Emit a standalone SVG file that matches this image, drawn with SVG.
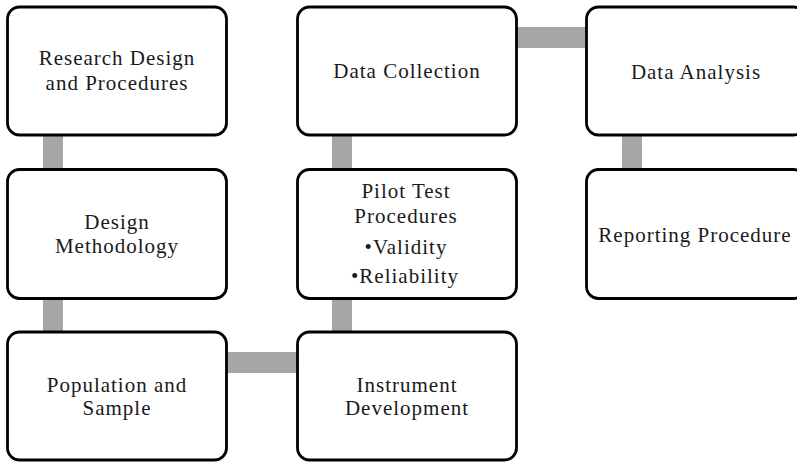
<svg xmlns="http://www.w3.org/2000/svg" width="797" height="464" viewBox="0 0 797 464">
<style>
.box{fill:#fff;stroke:#000;stroke-width:2.8}
.conn{fill:#a6a6a6}
text{font-family:"Liberation Serif","Times New Roman",serif;font-size:21px;fill:#1a1a1a;text-anchor:middle;letter-spacing:1px}
</style>
<rect width="797" height="464" fill="#fff"/>
<g id="connectors">
<rect class="conn" x="43" y="134" width="20" height="37"/>
<rect class="conn" x="43" y="297" width="20" height="37"/>
<rect class="conn" x="225" y="352" width="74" height="21"/>
<rect class="conn" x="332" y="297" width="20" height="37"/>
<rect class="conn" x="332" y="134" width="20" height="37"/>
<rect class="conn" x="515" y="27" width="73" height="21"/>
<rect class="conn" x="622" y="134" width="20" height="37"/>
</g>
<g id="research-design">
<rect class="box" x="7.5" y="7" width="219" height="128" rx="12"/>
<text x="117" y="65">Research Design</text>
<text x="117" y="90">and Procedures</text>
</g>
<g id="design-methodology">
<rect class="box" x="7.5" y="169.5" width="219" height="129" rx="12"/>
<text x="117" y="229">Design</text>
<text x="117" y="253">Methodology</text>
</g>
<g id="population-sample">
<rect class="box" x="7.5" y="332" width="219" height="128" rx="12"/>
<text x="117" y="392">Population and</text>
<text x="117" y="415">Sample</text>
</g>
<g id="data-collection">
<rect class="box" x="297.5" y="7" width="219" height="128" rx="12"/>
<text x="407" y="78">Data Collection</text>
</g>
<g id="pilot-test">
<rect class="box" x="297.5" y="169.5" width="219" height="129" rx="12"/>
<text x="406" y="198">Pilot Test</text>
<text x="406" y="223">Procedures</text>
<text x="406" y="254">•Validity</text>
<text x="405" y="283">•Reliability</text>
</g>
<g id="instrument-development">
<rect class="box" x="297.5" y="332" width="219" height="128" rx="12"/>
<text x="407" y="392">Instrument</text>
<text x="407" y="415">Development</text>
</g>
<g id="data-analysis">
<rect class="box" x="586.5" y="7" width="219" height="128" rx="12"/>
<text x="696" y="79">Data Analysis</text>
</g>
<g id="reporting-procedure">
<rect class="box" x="586.5" y="169.5" width="219" height="129" rx="12"/>
<text x="695" y="242">Reporting Procedure</text>
</g>
</svg>
